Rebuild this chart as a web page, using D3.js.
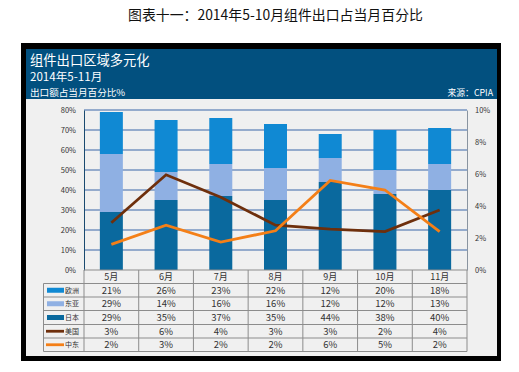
<!DOCTYPE html>
<html><head><meta charset="utf-8">
<script src="https://cdn.jsdelivr.net/npm/d3@7"></script>
<style>html,body{margin:0;padding:0;background:#fff}svg{display:block}text{font-family:"Noto Sans CJK SC",sans-serif}</style>
</head><body><div id="c"></div>
<script>
const months=["5月","6月","7月","8月","9月","10月","11月"];
const europe=[21,26,23,22,12,20,18];
const asia=[29,14,16,16,12,12,13];
const japan=[29,35,37,35,44,38,40];
const usa=[2.95,5.95,4.55,2.8,2.55,2.4,3.75];
const china=[1.6,2.8,1.75,2.45,5.6,5.0,2.4];
const usaLabels=["3%","6%","4%","3%","3%","2%","4%"];
const chinaLabels=["2%","3%","2%","2%","6%","5%","2%"];
const leftTicks=[0,10,20,30,40,50,60,70,80];
const rightTicks=[0,2,4,6,8,10];
const seriesNames=["欧洲","东亚","日本","美国","中东"];
const colors=["#1089d3","#8fb0e3","#0a699e","#6e2f0c","#f47f17"];

const svg=d3.select("#c").append("svg").attr("width",519).attr("height",372);
svg.append("rect").attr("x",21).attr("y",43).attr("width",480).attr("height",318).attr("fill","#000");
svg.append("rect").attr("x",26).attr("y",49).attr("width",471).attr("height",307).attr("fill","#f0f0f0");
svg.append("rect").attr("x",26).attr("y",49).attr("width",471).attr("height",50).attr("fill","#02507f");

svg.append("text").attr("x",128).attr("y",20).attr("font-size",13.9).attr("fill","#111").text("图表十一：2014年5-10月组件出口占当月百分比");
svg.append("text").attr("x",30).attr("y",65).attr("font-size",13.3).attr("fill","#fff").text("组件出口区域多元化");
svg.append("text").attr("x",30).attr("y",81).attr("font-size",11.6).attr("fill","#fff").text("2014年5-11月");
svg.append("text").attr("x",30).attr("y",96).attr("font-size",9.6).attr("fill","#fff").text("出口额占当月百分比%");
svg.append("text").attr("x",493).attr("y",96).attr("font-size",8.8).attr("text-anchor","end").attr("fill","#fff").text("来源：CPIA");

const x=d3.scaleBand().domain(months).range([84,467]);
const yL=d3.scaleLinear().domain([0,80]).range([270,110]);
const yR=d3.scaleLinear().domain([0,10]).range([270,110]);

const g=svg.append("g");
g.selectAll("line.grid").data(leftTicks.slice(1)).join("line")
 .attr("x1",84).attr("x2",467).attr("y1",d=>yL(d)).attr("y2",d=>yL(d))
 .attr("stroke","#3a66a8").attr("stroke-width",1);

const rows=months.map((m,i)=>({month:m,japan:japan[i],asia:asia[i],europe:europe[i]}));
const stack=d3.stack().keys(["japan","asia","europe"])(rows);
const barColor={japan:colors[2],asia:colors[1],europe:colors[0]};
const barW=23;
svg.selectAll("g.s").data(stack).join("g").attr("fill",d=>barColor[d.key])
 .selectAll("rect").data(d=>d).join("rect")
 .attr("x",d=>x(d.data.month)+x.bandwidth()/2-barW/2).attr("width",barW)
 .attr("y",d=>yL(d[1])).attr("height",d=>yL(d[0])-yL(d[1]));

const axL=svg.append("g").attr("transform","translate(84,0)").call(d3.axisLeft(yL).tickValues(leftTicks).tickFormat(d=>d+"%").tickSize(0).tickPadding(8));
axL.select(".domain").attr("stroke","#1a4a70").attr("stroke-width",1);
const axR=svg.append("g").attr("transform","translate(467,0)").call(d3.axisRight(yR).tickValues(rightTicks).tickFormat(d=>d+"%").tickSize(0).tickPadding(8));
axR.select(".domain").attr("stroke","#8a94a0").attr("stroke-width",1);
svg.selectAll(".tick text").attr("font-size",7.5).attr("fill","#333").attr("font-family","Noto Sans CJK SC");

const line=d3.line().x((d,i)=>x(months[i])+x.bandwidth()/2).y(d=>yR(d));
svg.append("path").datum(usa).attr("d",line).attr("fill","none").attr("stroke",colors[3]).attr("stroke-width",2.8);
svg.append("path").datum(china).attr("d",line).attr("fill","none").attr("stroke",colors[4]).attr("stroke-width",2.8);

const rowEdges=[270,283.5,297,310.5,324.5,338,351.5];
const tableLeft=43.5;
const grid="#8c8c8c";
const t=svg.append("g");
t.selectAll("line.h").data(rowEdges).join("line")
 .attr("x1",(d,i)=>i===0?84:tableLeft).attr("x2",467).attr("y1",d=>d).attr("y2",d=>d)
 .attr("stroke",grid);
t.selectAll("line.v").data(months.map(m=>x(m)).concat([467])).join("line")
 .attr("x1",d=>d).attr("x2",d=>d).attr("y1",270).attr("y2",351.5).attr("stroke",grid);
t.append("line").attr("x1",tableLeft).attr("x2",tableLeft).attr("y1",283.5).attr("y2",351.5).attr("stroke",grid);

const mid=i=>(rowEdges[i]+rowEdges[i+1])/2;
t.selectAll("text.m").data(months).join("text")
 .attr("x",d=>x(d)+x.bandwidth()/2).attr("y",mid(0)).attr("dy","0.35em").attr("text-anchor","middle")
 .attr("font-size",9).attr("fill","#333").text(d=>d);
const tableRows=[europe.map(v=>v+"%"),asia.map(v=>v+"%"),japan.map(v=>v+"%"),usaLabels,chinaLabels];
tableRows.forEach((vals,r)=>{
  t.selectAll("text.r"+r).data(vals).join("text").attr("class","r"+r)
   .attr("x",(d,i)=>x(months[i])+x.bandwidth()/2).attr("y",mid(r+1)).attr("dy","0.35em").attr("text-anchor","middle")
   .attr("font-size",9.5).attr("fill","#333").text(d=>d);
});
seriesNames.forEach((n,r)=>{
  const ym=mid(r+1);
  if(r<3) t.append("rect").attr("x",47).attr("y",ym-2.5).attr("width",17).attr("height",5).attr("fill",colors[r]);
  else t.append("line").attr("x1",46).attr("x2",64).attr("y1",ym).attr("y2",ym).attr("stroke",colors[r]).attr("stroke-width",2.8);
  t.append("text").attr("x",65).attr("y",ym).attr("dy","0.35em").attr("font-size",7).attr("fill","#333").text(n);
});
</script></body></html>
